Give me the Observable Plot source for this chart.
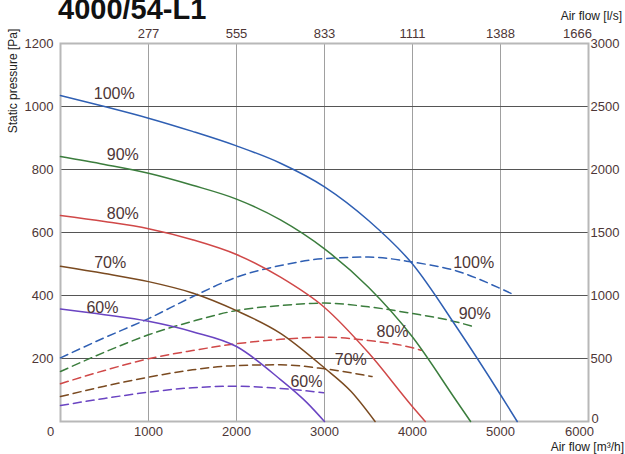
<!DOCTYPE html>
<html><head><meta charset="utf-8">
<script src="https://cdn.jsdelivr.net/npm/d3@7"></script>
<script src="https://cdn.jsdelivr.net/npm/@observablehq/plot@0.6"></script>
<style>
body{margin:0;background:#fff}
#chart{position:relative;width:625px;height:454px}
</style>
</head><body><div id="chart"></div>
<script>
// ---- data ----
const chartTitle = "4000/54-L1";
const yTitle = "Static pressure [Pa]";
const xTitle = "Air flow [m³/h]";
const topTitle = "Air flow [l/s]";

const speeds = ["100%", "90%", "80%", "70%", "60%"];
const speedColors = ["#2f5fb3", "#3b7d3d", "#d04848", "#7a4a20", "#6a44c2"];

// static pressure curves [air flow m3/h, Pa]
const p100 = [[0,1035],[500,1000],[1000,963],[1500,921],[2000,875],[2500,820],[3000,745],[3500,638],[4000,500],[4500,300],[5000,85],[5190,0]];
const p90  = [[0,841],[500,816],[1000,788],[1500,750],[2000,706],[2500,640],[3000,548],[3500,426],[4000,268],[4500,65],[4660,0]];
const p80  = [[0,654],[500,635],[1000,612],[1500,577],[2000,530],[2500,458],[3000,362],[3500,218],[4000,47],[4145,0]];
const p70  = [[0,493],[500,470],[1000,444],[1500,408],[2000,352],[2500,280],[3000,170],[3300,96],[3575,0]];
const p60  = [[0,357],[500,339],[1000,318],[1500,285],[2000,238],[2500,133],[2800,60],[3000,0]];

// power curves [air flow m3/h, W] (right axis)
const w100 = [[0,505],[500,665],[1000,817],[1500,990],[2000,1145],[2500,1238],[3000,1293],[3500,1305],[4000,1265],[4500,1195],[5000,1055],[5170,1000]];
const w90  = [[0,397],[500,550],[1000,688],[1500,795],[2000,881],[2500,920],[3000,940],[3500,910],[4000,857],[4500,790],[4715,748]];
const w80  = [[0,300],[500,405],[1000,498],[1500,563],[2000,617],[2500,652],[3000,669],[3500,643],[4000,585],[4100,565]];
const w70  = [[0,198],[500,280],[1000,352],[1500,410],[2000,444],[2500,450],[3000,418],[3540,357]];
const w60  = [[0,127],[500,183],[1000,233],[1500,268],[2000,280],[2500,262],[2990,228]];

// curve labels [air flow, Pa]
const labelsLeft  = [[611,1040],[708,848],[708,659],[565,505],[477,360]];
const labelsRight = [[4695,504],[4707,341],[3773,283],[3299,195],[2795,127]];

// ticks
const pressureTicks = [200,400,600,800,1000,1200];
const powerAxisTicks = [200,400,600,800,1000,1200];
const powerTickLabels = ["500","1000","1500","2000","2500","3000"];
const flowTicks = [1000,2000,3000,4000,5000];
const flowTickLabels = ["1000","2000","3000","4000","5000"];
const lpsTickLabels = ["277","555","833","1111","1388"];
const lastFlowTick = 6000, lastFlowLabel = "6000", lastLpsLabel = "1666";
const zeroLabel = "0";
const wattsPerPa = 2.5; // right axis 3000 <-> left 1200

// ---- build rows ----
const pSets = [p100,p90,p80,p70,p60];
const wSets = [w100,w90,w80,w70,w60];
const pressureRows = pSets.flatMap((s,i) => s.map(([x,y]) => ({x, y, speed: speeds[i]})));
const powerRows = wSets.flatMap((s,i) => s.map(([x,w]) => ({x, y: w / wattsPerPa, speed: speeds[i]})));
const labelRows = [
  ...labelsLeft.map(([x,y],i) => ({x, y, t: speeds[i]})),
  ...labelsRight.map(([x,y],i) => ({x, y, t: speeds[i]}))
];

const textColor = "#4d3636";
const font = "'Liberation Sans', Arial, sans-serif";

const plot = Plot.plot({
  width: 625, height: 454,
  marginLeft: 60, marginRight: 37, marginTop: 43, marginBottom: 33,
  style: {fontFamily: font, fontSize: "13px", background: "#fff"},
  x: {domain: [0, 6000]},
  y: {domain: [0, 1200]},
  color: {domain: speeds, range: speedColors},
  marks: [
    Plot.ruleX(flowTicks, {stroke: "#a0a0a0", strokeWidth: 1}),
    Plot.ruleY(pressureTicks.slice(0, 5), {stroke: "#555", strokeWidth: 1}),
    Plot.frame({stroke: "#b8b8b8", strokeWidth: 2}),
    Plot.line(powerRows, {x: "x", y: "y", z: "speed", stroke: "speed", strokeWidth: 1.5, strokeDasharray: "8,5", curve: "monotone-x"}),
    Plot.line(pressureRows, {x: "x", y: "y", z: "speed", stroke: "speed", strokeWidth: 1.5, curve: "monotone-x"}),
    Plot.text(labelRows, {x: "x", y: "y", text: "t", fill: textColor, fontSize: 16, textAnchor: "middle"}),
    Plot.axisY({anchor: "left", ticks: pressureTicks, tickFormat: d => String(d), tickSize: 0, tickPadding: 7, label: null, color: textColor, fontSize: 13}),
    Plot.axisY({anchor: "right", ticks: powerAxisTicks, tickFormat: d => powerTickLabels[powerAxisTicks.indexOf(d)], tickSize: 0, tickPadding: 2, label: null, color: textColor, fontSize: 13}),
    Plot.axisX({anchor: "bottom", ticks: flowTicks, tickFormat: d => flowTickLabels[flowTicks.indexOf(d)], tickSize: 0, tickPadding: 5, label: null, color: textColor, fontSize: 13}),
    Plot.axisX({anchor: "top", ticks: flowTicks, tickFormat: d => lpsTickLabels[flowTicks.indexOf(d)], tickSize: 0, tickPadding: 6, label: null, color: textColor, fontSize: 13}),
    Plot.text([lastFlowTick], {x: d => d, frameAnchor: "bottom", text: () => lastFlowLabel, dy: 5, dx: -9, lineAnchor: "top", fill: textColor, fontSize: 13}),
    Plot.text([0], {x: d => d, frameAnchor: "bottom", text: () => zeroLabel, dy: 5, dx: -10, lineAnchor: "top", fill: textColor, fontSize: 13}),
    Plot.text([0], {x: () => lastFlowTick, y: d => d, text: () => zeroLabel, textAnchor: "start", dx: 3, dy: -3, fill: textColor, fontSize: 13}),
    Plot.text([lastFlowTick], {x: d => d, frameAnchor: "top", text: () => lastLpsLabel, dy: -6, dx: -11, lineAnchor: "bottom", fill: textColor, fontSize: 13})
  ]
});

document.getElementById("chart").appendChild(plot);
const svg = d3.select(plot);
svg.append("text").attr("x", 58).attr("y", 19).attr("text-anchor", "start")
  .attr("font-family", font).attr("font-size", 29).attr("font-weight", "bold").attr("fill", "#111")
  .text(chartTitle);
svg.append("text").attr("transform", "translate(17,81) rotate(-90)").attr("text-anchor", "middle")
  .attr("font-family", font).attr("font-size", 12).attr("fill", "#222").text(yTitle);
svg.append("text").attr("x", 622).attr("y", 20).attr("text-anchor", "end")
  .attr("font-family", font).attr("font-size", 12).attr("fill", "#222").text(topTitle);
svg.append("text").attr("x", 624).attr("y", 451).attr("text-anchor", "end")
  .attr("font-family", font).attr("font-size", 12).attr("fill", "#222").text(xTitle);
</script>
</body></html>
